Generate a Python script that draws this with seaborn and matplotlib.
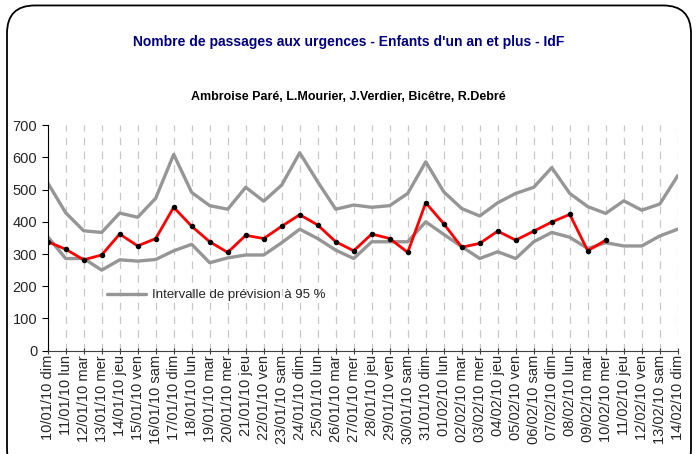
import numpy as np
import pandas as pd
import matplotlib
matplotlib.use("Agg")
from matplotlib import pyplot as plt
from matplotlib.patches import FancyBboxPatch
import seaborn as sns

# dates (axe des abscisses)
dates = ["10/01/10 dim", "11/01/10 lun", "12/01/10 mar", "13/01/10 mer", "14/01/10 jeu",
         "15/01/10 ven", "16/01/10 sam", "17/01/10 dim", "18/01/10 lun", "19/01/10 mar",
         "20/01/10 mer", "21/01/10 jeu", "22/01/10 ven", "23/01/10 sam", "24/01/10 dim",
         "25/01/10 lun", "26/01/10 mar", "27/01/10 mer", "28/01/10 jeu", "29/01/10 ven",
         "30/01/10 sam", "31/01/10 dim", "01/02/10 lun", "02/02/10 mar", "03/02/10 mer",
         "04/02/10 jeu", "05/02/10 ven", "06/02/10 sam", "07/02/10 dim", "08/02/10 lun",
         "09/02/10 mar", "10/02/10 mer", "11/02/10 jeu", "12/02/10 ven", "13/02/10 sam",
         "14/02/10 dim"]

# borne haute de l'intervalle de prevision
borne_haute = [521, 428, 372, 367, 427, 414, 473, 609, 491, 450, 439, 507, 464, 514, 614,
               524, 439, 452, 445, 450, 488, 586, 493, 441, 418, 459, 488, 507, 568, 488,
               447, 426, 465, 436, 455, 543]

# borne basse
borne_basse = [354, 286, 286, 250, 282, 278, 283, 310, 330, 273, 288, 297, 297, 335, 377,
               348, 312, 286, 338, 338, 338, 400, 361, 323, 286, 307, 286, 338, 367, 352,
               317, 335, 325, 325, 356, 377]

# passages observes (jusqu'au 10/02)
observes = [338, 315, 282, 297, 362, 325, 348, 445, 386, 338, 305, 358, 348, 386, 422,
            390, 338, 310, 362, 348, 305, 459, 394, 321, 333, 371, 343, 371, 399, 423,
            310, 343]

n = len(dates)
df = pd.DataFrame({
    "x": np.arange(n),
    "haute": borne_haute,
    "basse": borne_basse,
    "obs": observes + [np.nan] * (n - len(observes)),
})

sns.set_style("white")
plt.rcParams["font.family"] = ["Liberation Sans", "DejaVu Sans"]

fig = plt.figure(figsize=(6.97, 4.54), dpi=100)
ax = fig.add_axes([0.0684, 0.2275, 0.904, 0.497])

# cadre arrondi autour du graphique
cadre = FancyBboxPatch((7 / 697, -0.05), 684 / 697, 1.038, boxstyle="round,pad=0,rounding_size=0.04",
                       transform=fig.transFigure, fill=False, edgecolor="black", linewidth=1.3,
                       mutation_aspect=697 / 454)
fig.patches.append(cadre)

gris = "#969696"
sns.lineplot(data=df, x="x", y="haute", color=gris, linewidth=2.4, ax=ax,
             label="Intervalle de prévision à 95 %")
sns.lineplot(data=df, x="x", y="basse", color=gris, linewidth=2.4, ax=ax)
sns.lineplot(data=df, x="x", y="obs", color="#ff0000", linewidth=2.0, ax=ax,
             marker="o", markersize=3.2, markerfacecolor="black", markeredgecolor="black")

ax.set_xlim(0, n - 1)
ax.set_ylim(0, 700)
ax.set_yticks(range(0, 701, 100))
ax.set_xticks(range(n))
ax.set_xticklabels(dates, rotation=90, fontsize=10.5)
ax.tick_params(axis="y", labelsize=10.5, length=4, direction="out", left=True, color="black")
ax.tick_params(axis="x", length=4, direction="inout", bottom=True, color="#404040", pad=1)
ax.set_xlabel("")
ax.set_ylabel("")

ax.grid(axis="x", color="#c8c8c8", linestyle=(0, (6, 5)), linewidth=0.9)
ax.grid(axis="y", visible=False)
for s in ["top", "right"]:
    ax.spines[s].set_visible(False)
ax.spines["left"].set_color("black")
ax.spines["bottom"].set_color("#404040")

ax.legend(loc="center left", bbox_to_anchor=(0.075, 0.246), frameon=False, fontsize=9.5,
          handlelength=3.0, handletextpad=0.4)

fig.text(0.5, 0.907, "Nombre de passages aux urgences - Enfants d'un an et plus - IdF",
         ha="center", va="center", color="#000080", fontsize=10, fontweight="bold")
fig.text(0.5, 0.787, "Ambroise Paré, L.Mourier, J.Verdier, Bicêtre, R.Debré",
         ha="center", va="center", color="black", fontsize=9, fontweight="bold")

fig.savefig("out.png", dpi=100)
